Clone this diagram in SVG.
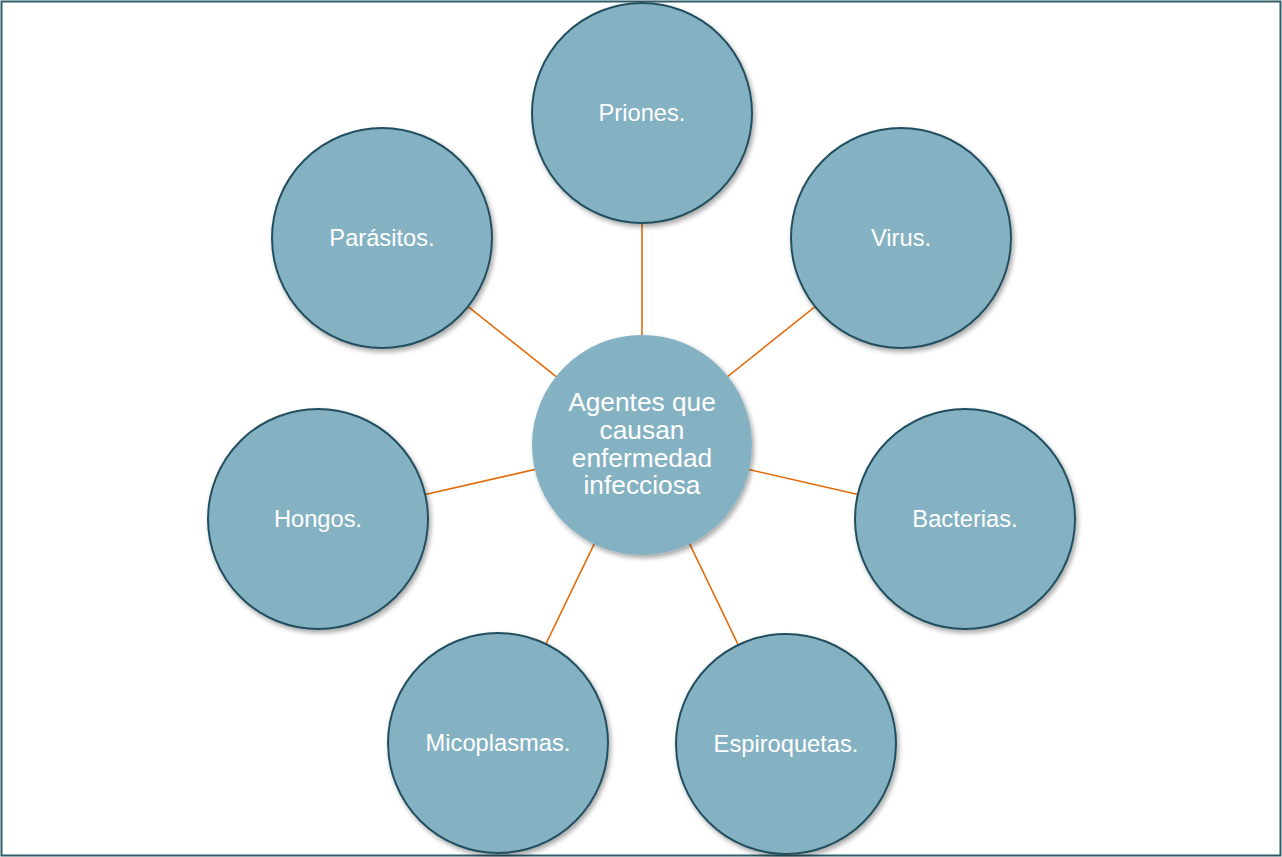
<svg xmlns="http://www.w3.org/2000/svg" width="1282" height="857" viewBox="0 0 1282 857">
<style>
.node{fill:#85b2c2;stroke:#24505f;stroke-width:2}
.center{fill:#85b2c2}
.lbl{font-family:"Liberation Sans",Arial,sans-serif;fill:#ffffff;text-anchor:middle;font-size:23.7px}
.clbl{font-family:"Liberation Sans",Arial,sans-serif;fill:#ffffff;text-anchor:middle;font-size:26.3px}
.conn{stroke:#e46c0a;stroke-width:1.6;fill:none}
</style>
<defs>
<filter id="sh" x="-20%" y="-20%" width="140%" height="140%">
<feGaussianBlur in="SourceAlpha" stdDeviation="2.5"/>
<feOffset dx="1.5" dy="2.5" result="b"/>
<feComponentTransfer><feFuncA type="linear" slope="0.35"/></feComponentTransfer>
<feMerge><feMergeNode/><feMergeNode in="SourceGraphic"/></feMerge>
</filter>
</defs>
<rect x="1.5" y="1.5" width="1279" height="854" fill="#ffffff" stroke="#2f5d69" stroke-width="2"/>
<g id="connectors">
<line class="conn" x1="642" y1="445" x2="642" y2="113"/>
<line class="conn" x1="642" y1="445" x2="901" y2="238"/>
<line class="conn" x1="642" y1="445" x2="382" y2="238"/>
<line class="conn" x1="642" y1="445" x2="318" y2="519"/>
<line class="conn" x1="642" y1="445" x2="965" y2="519"/>
<line class="conn" x1="642" y1="445" x2="498" y2="743"/>
<line class="conn" x1="642" y1="445" x2="786" y2="744"/>
</g>
<g id="priones"><circle class="node" cx="642" cy="113" r="110" filter="url(#sh)"/><text class="lbl" x="642" y="121">Priones.</text></g>
<g id="virus"><circle class="node" cx="901" cy="238" r="110" filter="url(#sh)"/><text class="lbl" x="901" y="246">Virus.</text></g>
<g id="parasitos"><circle class="node" cx="382" cy="238" r="110" filter="url(#sh)"/><text class="lbl" x="382" y="246">Parásitos.</text></g>
<g id="hongos"><circle class="node" cx="318" cy="519" r="110" filter="url(#sh)"/><text class="lbl" x="318" y="527">Hongos.</text></g>
<g id="bacterias"><circle class="node" cx="965" cy="519" r="110" filter="url(#sh)"/><text class="lbl" x="965" y="527">Bacterias.</text></g>
<g id="micoplasmas"><circle class="node" cx="498" cy="743" r="110" filter="url(#sh)"/><text class="lbl" x="498" y="751">Micoplasmas.</text></g>
<g id="espiroquetas"><circle class="node" cx="786" cy="744" r="110" filter="url(#sh)"/><text class="lbl" x="786" y="752">Espiroquetas.</text></g>
<g id="centro"><circle class="center" cx="642" cy="445" r="110" filter="url(#sh)"/>
<text class="clbl" x="642" y="411">Agentes que</text>
<text class="clbl" x="642" y="439">causan</text>
<text class="clbl" x="642" y="467">enfermedad</text>
<text class="clbl" x="642" y="494">infecciosa</text></g>
</svg>
